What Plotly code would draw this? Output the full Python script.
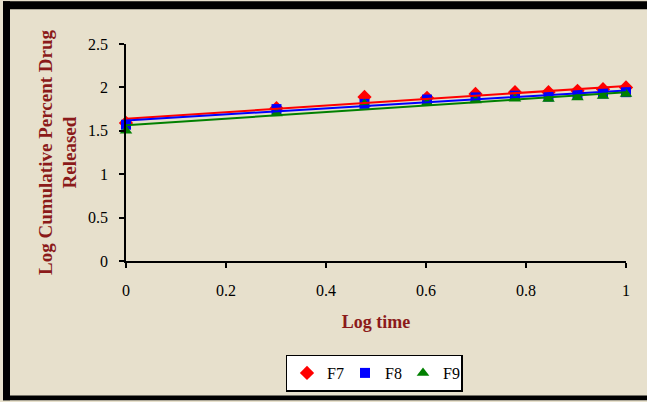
import numpy as np
import plotly.graph_objects as go

# Log time (log10 of 1..10 h)
log_time = [0.0, 0.301, 0.477, 0.602, 0.699, 0.778, 0.845, 0.903, 0.954, 1.0]

# Log cumulative percent drug released per formulation
f7 = [1.59, 1.76, 1.89, 1.88, 1.925, 1.945, 1.945, 1.96, 1.98, 2.00]
f8 = [1.57, 1.75, 1.81, 1.86, 1.885, 1.905, 1.895, 1.915, 1.93, 1.945]
f9 = [1.50, 1.70, 1.81, 1.82, 1.85, 1.87, 1.865, 1.885, 1.90, 1.925]

series = [
    ("F7", f7, "#ff0000", "diamond", 11),
    ("F8", f8, "#0000ff", "square", 10),
    ("F9", f9, "#008000", "triangle-up", 11),
]

SERIF = "Liberation Serif"
TITLE_RED = "#8b1a1a"
BG = "#e7e0cc"

fig = go.Figure()

x = np.array(log_time)
for name, ys, color, symbol, size in series:
    fig.add_trace(go.Scatter(
        x=log_time, y=ys, mode="markers", name=name,
        marker=dict(symbol=symbol, size=size, color=color),
        cliponaxis=False,
    ))

# Linear trend lines drawn over the markers
for name, ys, color, symbol, size in series:
    slope, intercept = np.polyfit(x, np.array(ys), 1)
    xs = np.array([0.0, 1.0])
    fig.add_trace(go.Scatter(
        x=xs, y=intercept + slope * xs, mode="lines",
        line=dict(color=color, width=2), showlegend=False,
        hoverinfo="skip", cliponaxis=False,
    ))

W, H = 647, 402
L, R, T, B = 126, 21, 44, 140
pw, ph = W - L - R, H - T - B


def px(u):
    return (u - L) / pw


def py(v):
    return (H - B - v) / ph


frame = [
    (3, 1, 10, 402),     # left band
    (3, 1, 647, 9),      # top band
    (3, 397, 647, 402),  # bottom band
]
shapes = [
    dict(type="rect", xref="paper", yref="paper",
         x0=px(a), x1=px(c), y0=py(d), y1=py(b),
         fillcolor="black", line=dict(width=0), layer="above")
    for a, b, c, d in frame
]

fig.update_layout(
    width=W, height=H,
    margin=dict(l=L, r=R, t=T, b=B),
    paper_bgcolor=BG, plot_bgcolor=BG,
    font=dict(family=SERIF, size=16, color="black"),
    shapes=shapes,
    showlegend=True,
    legend=dict(
        orientation="h", x=px(374), y=py(373),
        xanchor="center", yanchor="middle",
        bgcolor="white", bordercolor="black", borderwidth=1.5,
        font=dict(family=SERIF, size=16, color="black"),
        itemwidth=30, entrywidth=13, tracegroupgap=0,
    ),
    xaxis=dict(
        range=[0, 1], dtick=0.2, tick0=0,
        showgrid=False, zeroline=False,
        showline=True, linecolor="black", linewidth=1.5,
        ticks="outside", ticklen=5, tickcolor="black", tickwidth=1.5,
        ticklabelstandoff=9,
        tickfont=dict(family=SERIF, size=16),
        title=dict(text="<b>Log time</b>", standoff=17,
                   font=dict(family=SERIF, size=18, color=TITLE_RED)),
    ),
    yaxis=dict(
        range=[0, 2.5], dtick=0.5, tick0=0,
        showgrid=False, zeroline=False,
        showline=True, linecolor="black", linewidth=1.5,
        ticks="outside", ticklen=5, tickcolor="black", tickwidth=1.5,
        ticklabelstandoff=8,
        tickfont=dict(family=SERIF, size=16),
        title=dict(text="<b>Log Cumulative Percent Drug<br>Released</b>",
                   standoff=6,
                   font=dict(family=SERIF, size=19, color=TITLE_RED)),
    ),
)

fig.write_html("out.html")
